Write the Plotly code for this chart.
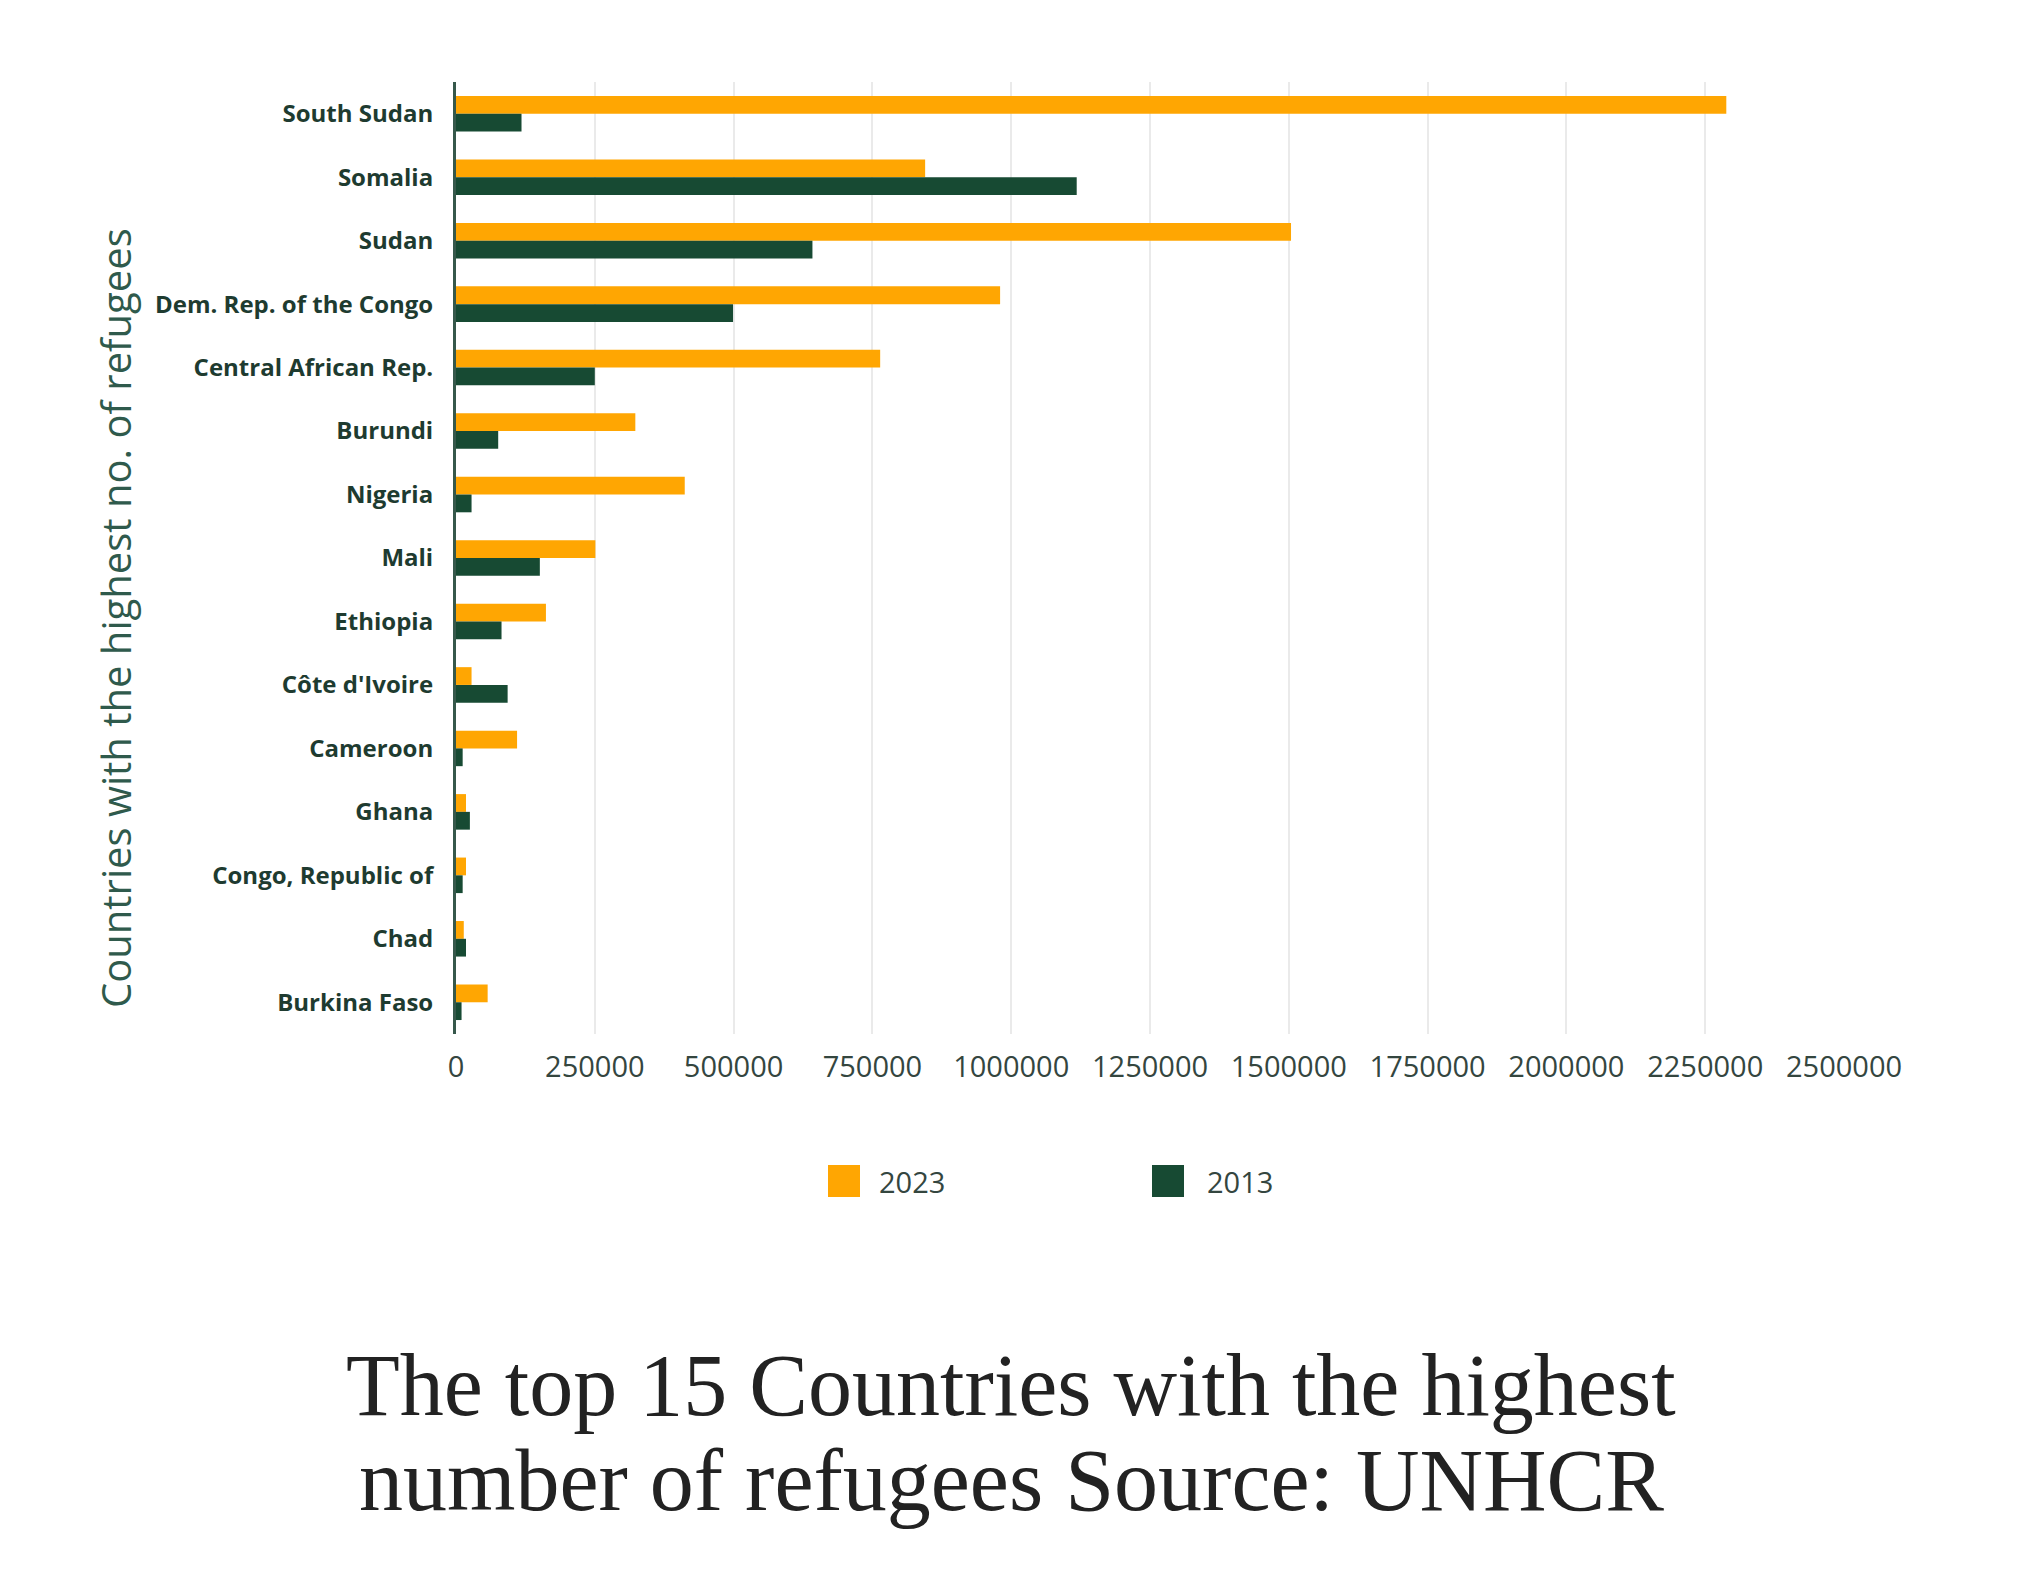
import plotly.graph_objects as go

countries = ["South Sudan", "Somalia", "Sudan", "Dem. Rep. of the Congo",
             "Central African Rep.", "Burundi", "Nigeria", "Mali", "Ethiopia",
             "Côte d'Ivoire", "Cameroon", "Ghana", "Congo, Republic of", "Chad",
             "Burkina Faso"]
refugees_2023 = [2288000, 845000, 1504000, 980000, 764000, 323000, 412000, 251000,
                 162000, 28000, 110000, 18000, 18000, 14000, 57000]
refugees_2013 = [118000, 1118000, 642000, 499000, 250000, 76000, 28000, 151000,
                 82000, 93000, 12000, 25000, 12000, 18000, 10000]
series_names = ["2023", "2013"]
x_ticks = [0, 250000, 500000, 750000, 1000000, 1250000, 1500000, 1750000,
           2000000, 2250000, 2500000]

ORANGE = "#FFA602"
GREEN = "#174A33"
TEXT_GREEN = "#1E3B30"
W, H = 2021, 1570
OFF = 8  # browser default body margin
PW, PH = 1388, 952
L, T = 456 - OFF, 82 - OFF
R, B = W - L - PW, H - T - PH


def px_x(p):
    return (p - OFF - L) / PW


def px_y(p):
    return (T + PH - (p - OFF)) / PH


fig = go.Figure()
fig.add_trace(go.Bar(y=countries, x=refugees_2023, name=series_names[0],
                     orientation="h", marker=dict(color=ORANGE, line=dict(width=0))))
fig.add_trace(go.Bar(y=countries, x=refugees_2013, name=series_names[1],
                     orientation="h", marker=dict(color=GREEN, line=dict(width=0))))

fig.update_layout(
    width=W, height=H,
    margin=dict(l=L, r=R, t=T, b=B, autoexpand=False),
    paper_bgcolor="white", plot_bgcolor="white",
    barmode="group", bargap=0.44, bargroupgap=0.0,
    showlegend=False,
    font=dict(family="Open Sans, sans-serif", color=TEXT_GREEN),
)
fig.update_xaxes(
    range=[0, 2500000], tickvals=x_ticks, tickformat="d",
    showgrid=True, gridcolor="#EAEAEA", gridwidth=2,
    zeroline=False, showline=False, ticks="",
    tickfont=dict(family="Open Sans, sans-serif", size=29, color="#34463F"),
    ticklabelstandoff=13,
)
fig.update_yaxes(
    type="category", autorange="reversed",
    showgrid=False, zeroline=False,
    showline=True, linecolor="#36584B", linewidth=3,
    ticks="", ticklabelstandoff=15,
    tickfont=dict(family="Open Sans, sans-serif", size=24, color=TEXT_GREEN, weight=700),
)

annotations = []
# y-axis title
annotations.append(dict(
    text="Countries with the highest no. of refugees", textangle=-90,
    xref="paper", yref="paper", x=px_x(115), y=px_y(618),
    xanchor="center", yanchor="middle", showarrow=False,
    font=dict(family="Open Sans, sans-serif", size=40, color="#2F5A4C", weight=400),
))
# legend (manual, for large swatches)
shapes = []
legend_items = [(series_names[0], ORANGE, 828, 877), (series_names[1], GREEN, 1152, 1205)]
for name, col, sx, tx in legend_items:
    shapes.append(dict(type="rect", xref="paper", yref="paper",
                       x0=px_x(sx), x1=px_x(sx + 32), y0=px_y(1197), y1=px_y(1165),
                       fillcolor=col, line=dict(width=0)))
    annotations.append(dict(text=name, xref="paper", yref="paper",
                            x=px_x(tx), y=px_y(1181), xanchor="left", yanchor="middle",
                            showarrow=False,
                            font=dict(family="Open Sans, sans-serif", size=29, color="#34463F")))
# caption title
title_lines = ["The top 15 Countries with the highest", "number of refugees Source: UNHCR"]
for line, cy in zip(title_lines, [1385, 1480]):
    annotations.append(dict(text=line, xref="paper", yref="paper",
                            x=px_x(1011), y=px_y(cy), xanchor="center", yanchor="middle",
                            showarrow=False,
                            font=dict(family="Liberation Serif, serif", size=88, color="#222222")))

fig.update_layout(annotations=annotations, shapes=shapes)
fig.write_html("out.html")
